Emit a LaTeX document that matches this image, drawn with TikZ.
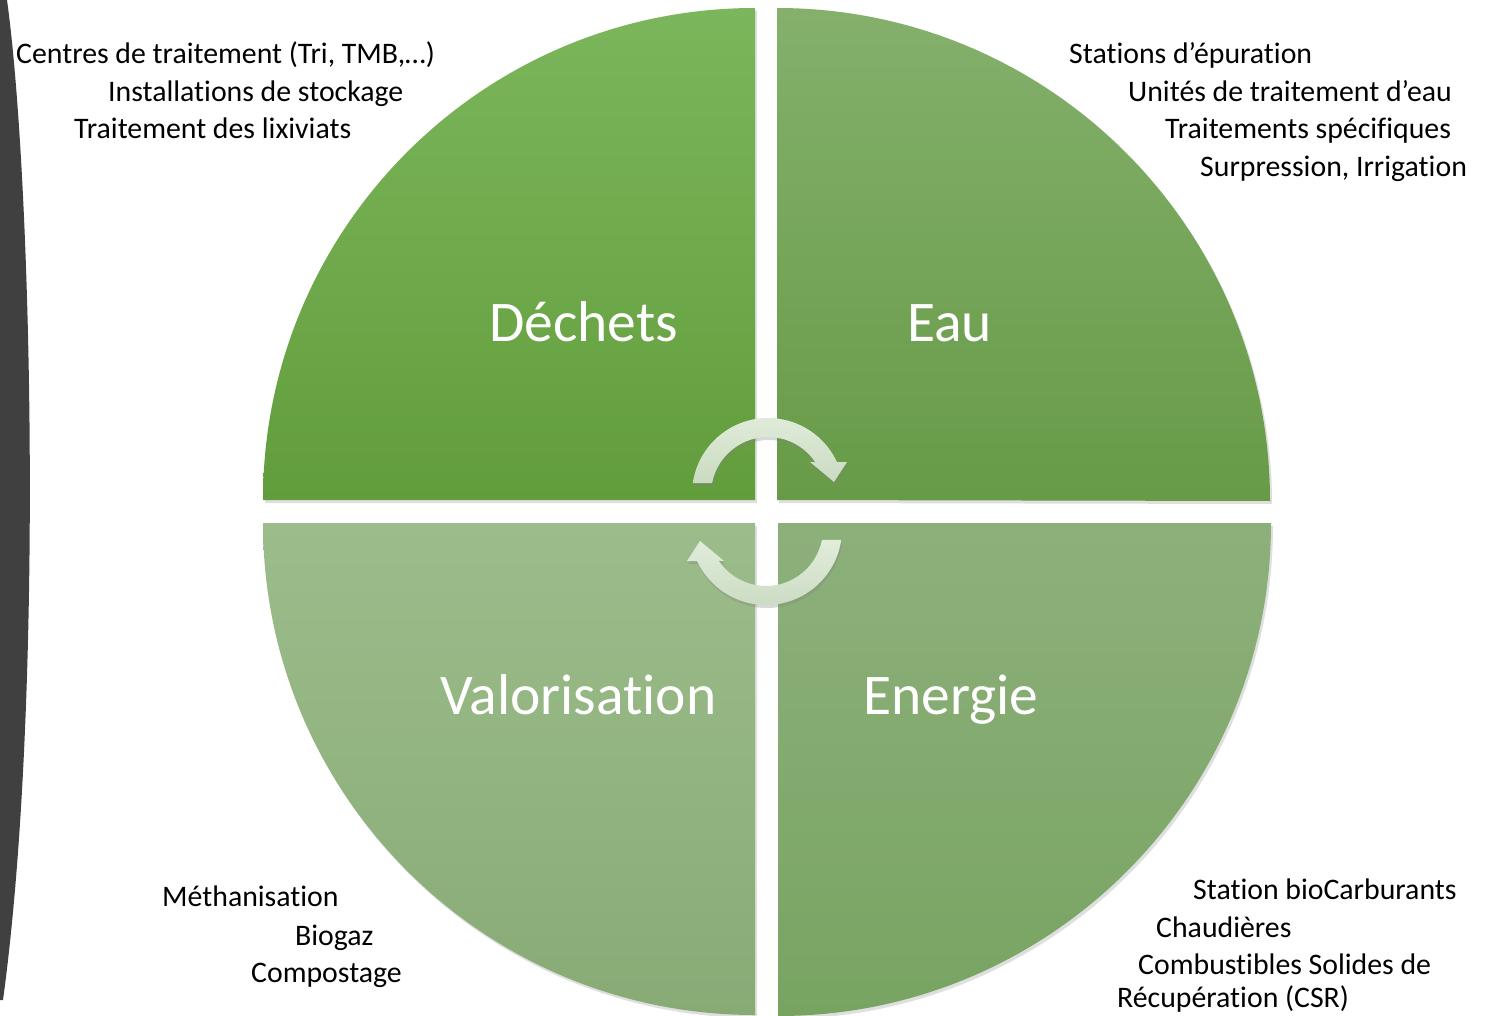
\documentclass[tikz,border=0pt]{standalone}
\usepackage{fontspec}
\setmainfont{Carlito}[Ligatures={NoCommon}]
\usetikzlibrary{shadows,calc}
\definecolor{tltop}{HTML}{7CB65C}
\definecolor{tlbot}{HTML}{629D3C}
\definecolor{trtop}{HTML}{84B06C}
\definecolor{trbot}{HTML}{679B47}
\definecolor{bltop}{HTML}{9CBD8B}
\definecolor{blbot}{HTML}{88AB76}
\definecolor{brtop}{HTML}{8DB07B}
\definecolor{brbot}{HTML}{78A462}
\definecolor{arrtop}{HTML}{E1ECDB}
\definecolor{arrbot}{HTML}{CADBC1}
\definecolor{sidegray}{HTML}{404040}
\begin{document}
\begin{tikzpicture}[x=1pt,y=-1pt,
  quad/.style={draw=none, drop shadow={opacity=0.25, shadow xshift=2pt, shadow yshift=-3pt}},
  bigtext/.style={anchor=base west, inner sep=0pt, text=white, font=\fontsize{57.5}{62}\selectfont},
  smalltext/.style={anchor=base west, inner sep=0pt, text=black, font=\fontsize{29.8}{34}\selectfont},
  cyc/.style={top color=arrtop, bottom color=arrbot, draw=none, drop shadow={opacity=0.3, shadow xshift=1pt, shadow yshift=-3pt}}]
\useasboundingbox (0,0) rectangle (1496,1016);
\fill[white] (0,0) rectangle (1496,1016);
% dark side band
\fill[sidegray] (0,0) -- (7,0) .. controls (32,180) and (44,700) .. (3,1000) -- (0,1000) -- cycle;
% quadrants
\path[quad, top color=tltop, bottom color=tlbot] (755,500) -- (263,500) arc[start angle=180, end angle=270, radius=492] -- cycle;
\path[quad, top color=trtop, bottom color=trbot] (777,500) -- (777,8) arc[start angle=270, end angle=360, radius=493] -- cycle;
\path[quad, top color=bltop, bottom color=blbot] (755,523) -- (755,1015) arc[start angle=90, end angle=180, radius=492] -- cycle;
\path[quad, top color=brtop, bottom color=brbot] (778,523) -- (1271,523) arc[start angle=0, end angle=90, radius=493] -- cycle;
% cycle arrows
\coordinate (c1) at (768,494);
\coordinate (c2) at (766,529);
\path[cyc] ($(c1)+(188.3:76)$) arc[start angle=188.3, end angle=335.1, radius=76] -- (847,462) -- (834,482) -- (810,462) -- ($(c1)+(326.2:57)$) arc[start angle=326.2, end angle=191.1, radius=57] -- cycle;
\path[cyc] ($(c2)+(8.3:76)$) arc[start angle=8.3, end angle=155.1, radius=76] -- (687,561) -- (700,541) -- (724,561) -- ($(c2)+(146.2:57)$) arc[start angle=146.2, end angle=11.1, radius=57] -- cycle;
% big labels
\node[bigtext] (dechets) at (489,341) {Déchets};
\node[bigtext] (eau) at (907,341) {Eau};
\node[bigtext] (valo) at (440,714) {Valorisation};
\node[bigtext] (energie) at (863,714) {Energie};
% top-left texts
\node[smalltext] (tl1) at (16,64) {Centres de traitement (Tri, TMB,…)};
\node[smalltext] (tl2) at (108,101.5) {Installations de stockage};
\node[smalltext] (tl3) at (74,139) {Traitement des lixiviats};
% top-right texts
\node[smalltext] (tr1) at (1069,64) {Stations d’épuration};
\node[smalltext] (tr2) at (1128,101.5) {Unités de traitement d’eau};
\node[smalltext] (tr3) at (1165,139) {Traitements spécifiques};
\node[smalltext] (tr4) at (1200,176.5) {Surpression, Irrigation};
% bottom-left texts
\node[smalltext] (bl1) at (162,906) {Méthanisation};
\node[smalltext] (bl2) at (295,945) {Biogaz};
\node[smalltext] (bl3) at (251,982) {Compostage};
% bottom-right texts
\node[smalltext] (br1) at (1193,899) {Station bioCarburants};
\node[smalltext] (br2) at (1156,937) {Chaudières};
\node[smalltext] (br3) at (1138,974) {Combustibles Solides de};
\node[smalltext] (br4) at (1117,1007) {Récupération (CSR)};
\end{tikzpicture}
\end{document}
